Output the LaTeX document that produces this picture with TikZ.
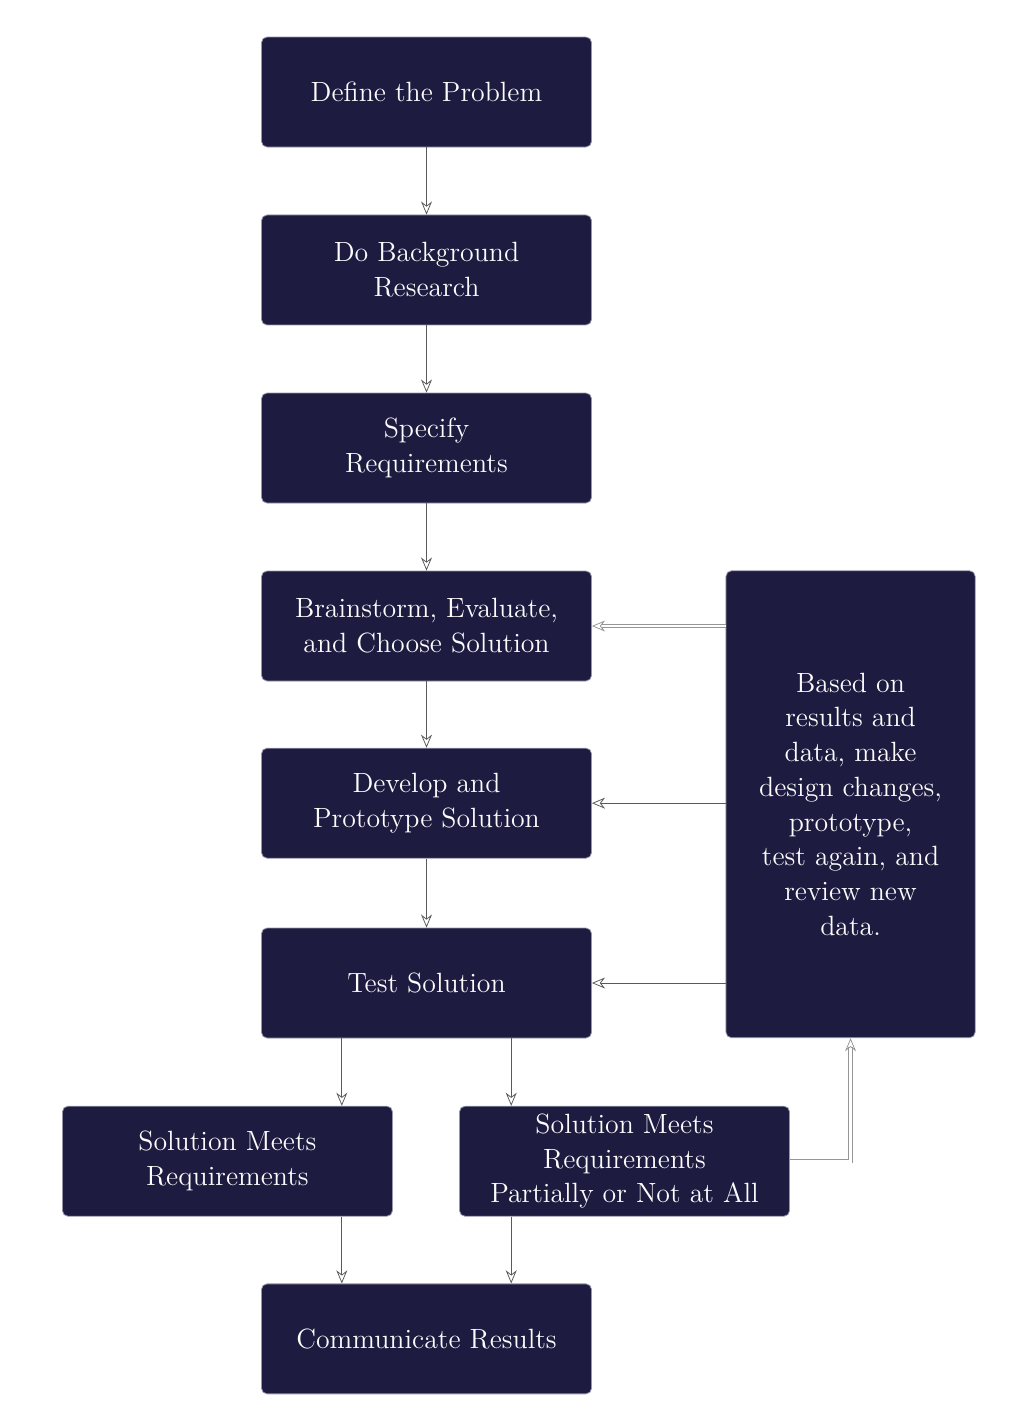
\documentclass[tikz,border=0pt]{standalone}
\usetikzlibrary{arrows.meta}

\definecolor{boxnavy}{RGB}{30,27,64}
\definecolor{boxedge}{RGB}{150,150,170}
\definecolor{boxtext}{RGB}{252,252,252}
\definecolor{linegray}{RGB}{90,90,90}
\definecolor{doublegray}{RGB}{150,150,150}

\begin{document}
\begin{tikzpicture}[auto,
   stage/.style ={rectangle, rounded corners=1mm, draw=boxedge, fill=boxnavy, text=boxtext,
                  minimum width=6cm, minimum height=2cm, align=center, font=\Large},
   link/.style ={draw=linegray, -{Stealth[open, length=2.4mm, width=2mm]}},
   feedback/.style ={link, draw=doublegray, double=white, double distance=1.4pt}]
   \useasboundingbox (-7.755,-24.2) rectangle (10.991,1.673);

   \node[stage] (define)     at (0,0)      {Define the Problem};
   \node[stage] (research)   at (0,-3.236) {Do Background\\Research};
   \node[stage] (specify)    at (0,-6.473) {Specify\\Requirements};
   \node[stage] (brainstorm) at (0,-9.709) {Brainstorm, Evaluate,\\and Choose Solution};
   \node[stage] (develop)    at (0,-12.93) {Develop and\\Prototype Solution};
   \node[stage] (test)       at (0,-16.2)  {Test Solution};
   \node[stage] (meets)      at (-3.62,-19.44) {Solution Meets\\Requirements};
   \node[stage] (partial)    at (3.6,-19.44)   {Solution Meets\\Requirements\\Partially or Not at All};
   \node[stage] (results)    at (0,-22.67) {Communicate Results};
   \node[stage, minimum width=4.53cm, minimum height=8.49cm] (redesign) at (7.71,-12.95)
        {Based on\\results and\\data, make\\design changes,\\prototype,\\test again, and\\review new\\data.};

   \coordinate (lsplit) at ([xshift=-1.54cm]test.south);
   \coordinate (rsplit) at ([xshift=1.54cm]test.south);

   \draw[link] (define) to (research);
   \draw[link] (research) to (specify);
   \draw[link] (specify) to (brainstorm);
   \draw[link] (brainstorm) to (develop);
   \draw[link] (develop) to (test);

   \draw[link] (lsplit) to (lsplit |- meets.north);
   \draw[link] (rsplit) to (rsplit |- partial.north);
   \draw[link] (lsplit |- meets.south) to (lsplit |- results.north);
   \draw[link] (rsplit |- partial.south) to (rsplit |- results.north);

   \draw[feedback] (redesign.west |- brainstorm) to (brainstorm.east);
   \draw[link] (redesign.west |- develop) to (develop.east);
   \draw[link] (redesign.west |- test) to (test.east);
   \draw[feedback] (partial.east) -| (redesign.south);
 \end{tikzpicture}
\end{document}
